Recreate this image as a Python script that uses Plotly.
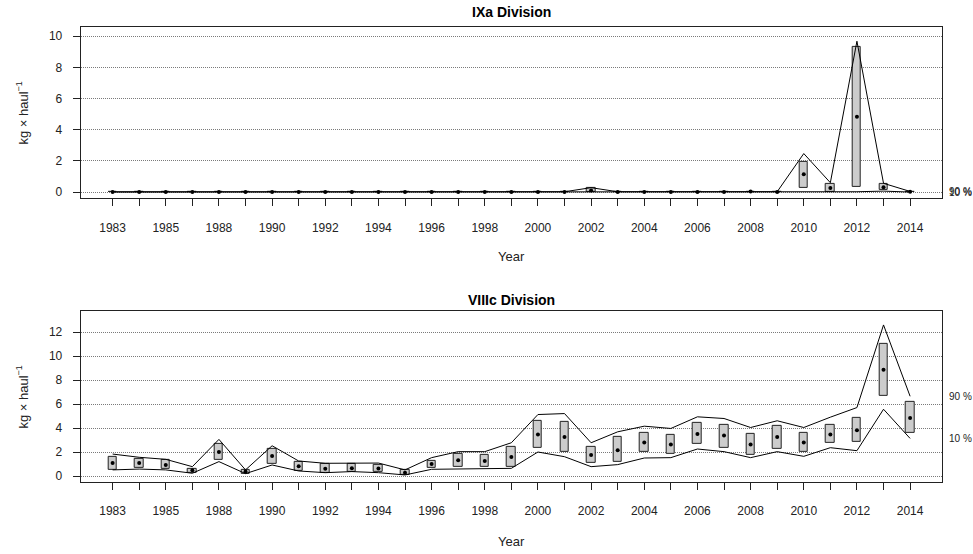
import plotly.graph_objects as go

# Survey years (1987 has no survey)
years = [1983, 1984, 1985, 1986, 1988, 1989, 1990, 1991, 1992, 1993, 1994,
         1995, 1996, 1997, 1998, 1999, 2000, 2001, 2002, 2003, 2004, 2005,
         2006, 2007, 2008, 2009, 2010, 2011, 2012, 2013, 2014]
idx = list(range(1, len(years) + 1))
tick_text = [str(y) if i % 2 == 1 else "" for i, y in zip(idx, years)]

# IXa Division: mean, box limits and 10/90 % quantile lines (kg/haul)
ixa_mean = [0.01] * 18 + [0.10] + [0.01] * 5 + [0.03, 0.0, 1.15, 0.26, 4.84, 0.30, 0.02]
ixa_box_hi = [0.0] * 18 + [0.28] + [0.0] * 5 + [0.0, 0.0, 1.96, 0.53, 9.30, 0.51, 0.03]
ixa_box_lo = [0.0] * 18 + [0.0] + [0.0] * 5 + [0.0, 0.0, 0.26, 0.0, 0.34, 0.12, 0.0]
ixa_q90 = [0.02] * 18 + [0.28] + [0.02] * 5 + [0.06, 0.02, 2.47, 0.60, 9.68, 0.56, 0.04]
ixa_q10 = [0.0] * 18 + [0.0] + [0.0] * 5 + [0.0, 0.0, 0.0, 0.0, 0.02, 0.06, 0.0]

# VIIIc Division
viii_mean = [1.10, 1.10, 0.94, 0.50, 2.02, 0.39, 1.69, 0.83, 0.62, 0.66, 0.64,
             0.30, 1.02, 1.33, 1.27, 1.60, 3.48, 3.26, 1.77, 2.16, 2.82, 2.65,
             3.51, 3.40, 2.65, 3.26, 2.82, 3.48, 3.84, 8.87, 4.86]
viii_box_hi = [1.63, 1.49, 1.33, 0.64, 2.70, 0.50, 2.29, 1.16, 1.01, 1.00, 0.97,
               0.50, 1.30, 1.85, 1.80, 2.43, 4.59, 4.53, 2.43, 3.26, 3.65, 3.48,
               4.45, 4.31, 3.54, 4.20, 3.65, 4.26, 4.84, 11.00, 6.16]
viii_box_lo = [0.53, 0.72, 0.64, 0.30, 1.33, 0.22, 1.05, 0.44, 0.27, 0.36, 0.33,
               0.11, 0.66, 0.77, 0.77, 0.80, 2.35, 2.05, 1.10, 1.16, 2.02, 1.85,
               2.71, 2.40, 1.77, 2.32, 1.99, 2.79, 2.87, 6.69, 3.59]
viii_q90 = [1.85, 1.58, 1.41, 0.80, 3.07, 0.53, 2.54, 1.27, 1.08, 1.10, 1.10,
            0.53, 1.55, 2.05, 2.05, 2.79, 5.14, 5.22, 2.79, 3.70, 4.17, 3.98,
            4.95, 4.81, 4.06, 4.62, 4.06, 4.92, 5.72, 12.60, 6.66]
viii_q10 = [0.53, 0.60, 0.53, 0.25, 1.22, 0.22, 0.94, 0.44, 0.30, 0.39, 0.30,
            0.11, 0.58, 0.60, 0.60, 0.66, 2.02, 1.63, 0.80, 0.97, 1.52, 1.55,
            2.27, 2.05, 1.55, 2.05, 1.66, 2.38, 2.13, 5.58, 3.15]

FONT = "Liberation Sans, Arial, Helvetica, sans-serif"
BOX_FILL = "#cccccc"
BOX_W = 0.32
W, H = 973, 554

fig = go.Figure()


def add_panel(xa, ya, mean, lo, hi, q10, q90):
    fig.add_trace(go.Scatter(x=idx, y=q90, mode="lines", xaxis=xa, yaxis=ya,
                             line=dict(color="black", width=1), hoverinfo="skip"))
    fig.add_trace(go.Scatter(x=idx, y=q10, mode="lines", xaxis=xa, yaxis=ya,
                             line=dict(color="black", width=1), hoverinfo="skip"))
    fig.add_trace(go.Bar(x=idx, y=[h - l for h, l in zip(hi, lo)], base=lo,
                         width=BOX_W, xaxis=xa, yaxis=ya,
                         marker=dict(color=BOX_FILL, line=dict(color="#222222", width=1))))
    fig.add_trace(go.Scatter(x=idx, y=mean, mode="markers", xaxis=xa, yaxis=ya,
                             marker=dict(color="black", size=4, symbol="circle")))


add_panel("x", "y", ixa_mean, ixa_box_lo, ixa_box_hi, ixa_q10, ixa_q90)
add_panel("x2", "y2", viii_mean, viii_box_lo, viii_box_hi, viii_q10, viii_q90)

xdom = [80.7 / W, 942 / W]
top_dom = [1 - 199 / H, 1 - 27 / H]
bot_dom = [1 - 483.3 / H, 1 - 312 / H]

xcommon = dict(domain=xdom, range=[-0.2, 32.2], tickmode="array", tickvals=idx,
               ticktext=tick_text, ticks="outside", ticklen=7, tickcolor="#222222",
               showgrid=False, zeroline=False, showline=True, mirror=True,
               linecolor="#222222", linewidth=1, ticklabelstandoff=11,
               tickfont=dict(family=FONT, size=12, color="#222222"))
ycommon = dict(ticks="outside", ticklen=7, tickcolor="#222222", showgrid=True,
               gridcolor="#7a7a7a", griddash="1px,1px", gridwidth=1, zeroline=False,
               showline=True, mirror=True, linecolor="#222222", linewidth=1,
               ticklabelstandoff=8, tickfont=dict(family=FONT, size=12, color="#222222"))

fig.update_layout(
    width=W, height=H, margin=dict(l=0, r=0, t=0, b=0),
    paper_bgcolor="white", plot_bgcolor="white", showlegend=False, bargap=0,
    xaxis=dict(anchor="y", **xcommon),
    xaxis2=dict(anchor="y2", **xcommon),
    yaxis=dict(anchor="x", domain=top_dom, range=[-0.4, 10.6],
               tickvals=[0, 2, 4, 6, 8, 10], **ycommon),
    yaxis2=dict(anchor="x2", domain=bot_dom, range=[-0.44, 13.77],
                tickvals=[0, 2, 4, 6, 8, 10, 12], **ycommon),
)

ann_font = dict(family=FONT, size=13, color="#222222")
xc = (80.7 + 942) / 2 / W
for title, ytitle, yyear, ylab in [("IXa Division", 12, 257, 113),
                                   ("VIIIc Division", 301, 543, 398)]:
    fig.add_annotation(text="<b>" + title + "</b>", xref="paper", yref="paper",
                       x=xc, y=1 - ytitle / H, xanchor="center", yanchor="middle",
                       showarrow=False, font=dict(family=FONT, size=14, color="black"))
    fig.add_annotation(text="Year", xref="paper", yref="paper", x=xc,
                       y=1 - yyear / H, xanchor="center", yanchor="middle",
                       showarrow=False, font=ann_font)
    fig.add_annotation(text="kg × haul<sup>−1</sup>", xref="paper", yref="paper",
                       x=22 / W, y=1 - ylab / H, textangle=-90,
                       xanchor="center", yanchor="middle",
                       showarrow=False, font=ann_font)

# Quantile labels placed beside the last point of each quantile line
lab_font = dict(family=FONT, size=10, color="#222222")
for ya, q10, q90 in [("y", ixa_q10, ixa_q90), ("y2", viii_q10, viii_q90)]:
    fig.add_annotation(text="90 %", xref="paper", yref=ya, x=948 / W, y=q90[-1],
                       xanchor="left", yanchor="middle", borderpad=0,
                       showarrow=False, font=lab_font)
    fig.add_annotation(text="10 %", xref="paper", yref=ya, x=948 / W, y=q10[-1],
                       xanchor="left", yanchor="middle", borderpad=0,
                       showarrow=False, font=lab_font)

fig.write_html("out.html")
